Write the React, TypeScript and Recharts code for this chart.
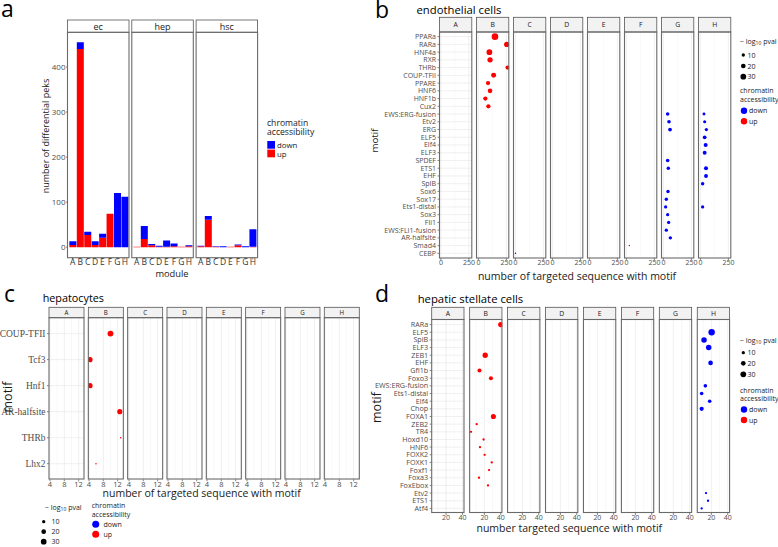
import React from 'react';
import { BarChart, Bar, XAxis, YAxis, ScatterChart, Scatter, CartesianGrid } from 'recharts';

// ---------------- data ----------------
const MODULES = ['A', 'B', 'C', 'D', 'E', 'F', 'G', 'H'];
const CELL_TYPES = ['ec', 'hep', 'hsc'];
const ecUp = [5, 440, 27, 5, 21, 74, 0, 0];
const ecDown = [8, 15, 7, 8, 9, 0, 120, 112];
const hepUp = [1, 18, 4, 1, 1, 2, 1, 2];
const hepDown = [0, 29, 3, 2, 14, 6, 0, 2];
const hscUp = [2, 61, 1, 0, 1, 4, 0, 1];
const hscDown = [1, 8, 1, 2, 0, 2, 2, 39];
const COUNT_TICKS = [0, 100, 200, 300, 400];

type Dot = [string, string, number, number, 'up' | 'down'];

const ecMotifs = ['PPARa', 'RARa', 'HNF4a', 'RXR', 'THRb', 'COUP-TFII', 'PPARE', 'HNF6', 'HNF1b', 'Cux2',
  'EWS:ERG-fusion', 'Etv2', 'ERG', 'ELF5', 'Elf4', 'ELF3', 'SPDEF', 'ETS1', 'EHF', 'SpIB', 'Sox6', 'Sox17',
  'Ets1-distal', 'Sox3', 'Fli1', 'EWS:FLI1-fusion', 'AR-halfsite', 'Smad4', 'CEBP'];
// [motif, module, number of targeted sequences, -log10 pval, accessibility]
const ecDots: Dot[] = [
  ['PPARa', 'B', 148, 40, 'up'],
  ['RARa', 'B', 253, 26, 'up'],
  ['HNF4a', 'B', 98, 30, 'up'],
  ['RXR', 'B', 104, 26, 'up'],
  ['THRb', 'B', 261, 17, 'up'],
  ['COUP-TFII', 'B', 136, 23, 'up'],
  ['PPARE', 'B', 86, 17, 'up'],
  ['HNF6', 'B', 104, 20, 'up'],
  ['HNF1b', 'B', 62, 17, 'up'],
  ['Cux2', 'B', 89, 17, 'up'],
  ['EWS:ERG-fusion', 'G', 38, 12, 'down'],
  ['Etv2', 'G', 50, 12, 'down'],
  ['ERG', 'G', 59, 13, 'down'],
  ['EWS:ERG-fusion', 'H', 32, 8, 'down'],
  ['Etv2', 'H', 38, 9, 'down'],
  ['ERG', 'H', 53, 10, 'down'],
  ['ELF5', 'H', 38, 13, 'down'],
  ['Elf4', 'H', 47, 15, 'down'],
  ['ELF3', 'H', 38, 14, 'down'],
  ['SPDEF', 'G', 38, 12, 'down'],
  ['ETS1', 'G', 44, 11, 'down'],
  ['ETS1', 'H', 50, 15, 'down'],
  ['EHF', 'H', 50, 14, 'down'],
  ['SpIB', 'H', 20, 11, 'down'],
  ['Sox6', 'G', 41, 11, 'down'],
  ['Sox17', 'G', 26, 11, 'down'],
  ['Ets1-distal', 'G', 20, 10, 'down'],
  ['Ets1-distal', 'H', 20, 10, 'down'],
  ['Sox3', 'G', 38, 10, 'down'],
  ['Fli1', 'G', 47, 10, 'down'],
  ['EWS:FLI1-fusion', 'G', 26, 10, 'down'],
  ['AR-halfsite', 'G', 62, 11, 'down'],
  ['Smad4', 'F', 26, 2, 'up'],
  ['CEBP', 'C', 1, 2, 'down'],
];

const hepMotifs = ['COUP-TFII', 'Tcf3', 'Hnf1', 'AR-halfsite', 'THRb', 'Lhx2'];
const hepDots: Dot[] = [
  ['COUP-TFII', 'B', 10, 32, 'up'],
  ['Tcf3', 'B', 4.3, 24, 'up'],
  ['Hnf1', 'B', 4.3, 24, 'up'],
  ['AR-halfsite', 'B', 12.6, 24, 'up'],
  ['THRb', 'B', 12.85, 2, 'up'],
  ['Lhx2', 'B', 5.95, 2, 'up'],
];

const hscMotifs = ['RARa', 'ELF5', 'SpiB', 'ELF3', 'ZEB1', 'EHF', 'Gfi1b', 'Foxo3', 'EWS:ERG-fusion',
  'Ets1-distal', 'Elf4', 'Chop', 'FOXA1', 'ZEB2', 'TR4', 'Hoxd10', 'HNF6', 'FOXK2', 'FOXK1', 'Foxf1',
  'Foxa3', 'FoxEbox', 'Etv2', 'ETS1', 'Atf4'];
const hscDots: Dot[] = [
  ['RARa', 'B', 40, 25, 'up'],
  ['ZEB1', 'B', 21, 26, 'up'],
  ['Gfi1b', 'B', 14, 15, 'up'],
  ['Foxo3', 'B', 28, 15, 'up'],
  ['FOXA1', 'B', 31, 24, 'up'],
  ['ZEB2', 'B', 10.6, 5, 'up'],
  ['TR4', 'B', 3.6, 5, 'up'],
  ['Hoxd10', 'B', 19, 5, 'up'],
  ['HNF6', 'B', 14.6, 5, 'up'],
  ['FOXK2', 'B', 20.3, 5, 'up'],
  ['FOXK1', 'B', 29, 5, 'up'],
  ['Foxf1', 'B', 25.7, 5, 'up'],
  ['Foxa3', 'B', 13.4, 5, 'up'],
  ['FoxEbox', 'B', 24.4, 5, 'up'],
  ['ELF5', 'H', 20.3, 38, 'down'],
  ['SpiB', 'H', 11, 28, 'down'],
  ['ELF3', 'H', 16.7, 28, 'down'],
  ['EHF', 'H', 19, 20, 'down'],
  ['EWS:ERG-fusion', 'H', 12.6, 12, 'down'],
  ['Ets1-distal', 'H', 8.1, 12, 'down'],
  ['Elf4', 'H', 17.9, 12, 'down'],
  ['Chop', 'H', 8.1, 16, 'down'],
  ['Etv2', 'H', 13.4, 5, 'down'],
  ['ETS1', 'H', 15.9, 5, 'down'],
  ['Atf4', 'H', 8.1, 5, 'down'],
];

const ecTicks = [0, 250];
const ecMinor = [125];
const hepTicks = [4, 8, 12];
const hepMinor = [6, 10];
const hscTicks = [20, 40];
const hscMinor = [10, 30];
const SIZE_LEGEND = [10, 20, 30];

// ---------------- style ----------------
const RED = '#ff0000';
const BLUE = '#0000ff';
const SANS = '"Open Sans", "Noto Sans", sans-serif';
const SERIF = '"Liberation Serif", "DejaVu Serif", serif';
const TXT = '#4d4d4d';
const rad = (p: number) => 0.52 * Math.sqrt(p);

const dotShape = (props: any) => {
  const { cx, cy, payload } = props;
  if (cx == null || cy == null) return <g />;
  return <circle cx={cx} cy={cy} r={rad(payload.p)} fill={payload.dir === 'up' ? RED : BLUE} />;
};

type Geom = { left0: number; pitch: number; w: number; top: number; bottom: number; stripTop: number; yW: number };

const GA: Geom = { left0: 67.5, pitch: 64.3, w: 61.5, top: 32.3, bottom: 257.7, stripTop: 20, yW: 18 };
const GB: Geom = { left0: 439.5, pitch: 37.0, w: 32.3, top: 32, bottom: 258, stripTop: 17.3, yW: 69.5 };
const GC: Geom = { left0: 49, pitch: 39.33, w: 35, top: 317.7, bottom: 479, stripTop: 307.3, yW: 49 };
const GD: Geom = { left0: 431.7, pitch: 37.94, w: 32.3, top: 319.5, bottom: 512.5, stripTop: 307.3, yW: 71.7 };

const XH = 11;
const SIDE = 7;

function DotPanel(props: {
  g: Geom; motifs: string[]; dots: Dot[]; xDomain: [number, number]; xTicks: number[]; xMinor: number[];
  labelFont: string; labelSize: number; tickFont: number;
}) {
  const { g, motifs, dots, xDomain, xTicks, xMinor, labelFont, labelSize, tickFont } = props;
  const n = motifs.length;
  const idx = motifs.map((_, i) => i);
  return (
    <>
      {MODULES.map((m, i) => {
        const first = i === 0;
        const yW = first ? g.yW : 0;
        const mL = first ? 0 : SIDE;
        const mR = SIDE;
        const left = g.left0 + i * g.pitch - yW - mL;
        const width = g.w + yW + mL + mR;
        const h = g.bottom - g.top + XH;
        const pts = dots
          .filter((d) => d[1] === m)
          .map((d) => ({ x: d[2], y: motifs.indexOf(d[0]), p: d[3], dir: d[4] }));
        return (
          <div key={m} style={{ position: 'absolute', left, top: g.top, width, height: h, zIndex: 1 }}>
            <ScatterChart width={width} height={h} margin={{ top: 0, right: mR, bottom: 0, left: mL }}>
              <CartesianGrid horizontal={false} verticalValues={xMinor} stroke="#f2f2f2" strokeWidth={0.5} />
              <CartesianGrid horizontalValues={idx} verticalValues={xTicks} stroke="#e6e6e6" strokeWidth={0.6} />
              <XAxis
                type="number"
                dataKey="x"
                domain={xDomain}
                ticks={xTicks}
                allowDataOverflow
                interval={0}
                height={XH}
                tickSize={2}
                tickMargin={0.5}
                axisLine={false}
                tickLine={{ stroke: '#333', strokeWidth: 0.6 }}
                tick={{ fontSize: tickFont, fill: TXT, fontFamily: SANS }}
              />
              <YAxis
                type="number"
                dataKey="y"
                domain={[-0.6, n - 0.4]}
                reversed
                ticks={idx}
                interval={0}
                allowDataOverflow
                width={yW}
                tickFormatter={(v: number) => motifs[v] ?? ''}
                tick={first ? { fontSize: labelSize, fill: TXT, fontFamily: labelFont } : false}
                tickLine={first ? { stroke: '#333', strokeWidth: 0.6 } : false}
                tickSize={2}
                tickMargin={1.5}
                axisLine={false}
              />
              <Scatter data={pts} shape={dotShape} isAnimationActive={false} />
            </ScatterChart>
          </div>
        );
      })}
    </>
  );
}

function FacetFrames({ g, labels, stripFill, stripH, fontSize }: { g: Geom; labels: string[]; stripFill: string; stripH: number; fontSize: number }) {
  return (
    <>
      {labels.map((l, i) => {
        const x = g.left0 + i * g.pitch;
        return (
          <g key={l + i}>
            <rect x={x} y={g.stripTop} width={g.w} height={stripH} fill={stripFill} stroke="#555" strokeWidth={0.8} />
            <text x={x + g.w / 2} y={g.stripTop + stripH / 2} textAnchor="middle" dominantBaseline="central"
              fontSize={fontSize} fill="#1a1a1a" fontFamily={SANS}>{l}</text>
            <rect x={x} y={g.top} width={g.w} height={g.bottom - g.top} fill="none" stroke="#6a6a6a" strokeWidth={1.1} />
          </g>
        );
      })}
    </>
  );
}

function SizeColorLegend(props: {
  x: number; titleY: number; sizeYs: number[]; dotX: number; labX: number; accX: number;
  accY1: number; accY2: number; keyYs: number[]; keyX: number; keyLabX: number; keyR: number; fs: number;
}) {
  const p = props;
  return (
    <g fontFamily={SANS} fill="#1a1a1a">
      <text x={p.x} y={p.titleY} dominantBaseline="central" fontSize={p.fs}>
        − log<tspan fontSize={p.fs * 0.72} dy={1.8}>10</tspan><tspan dy={-1.8}> pval</tspan>
      </text>
      {SIZE_LEGEND.map((s, i) => (
        <g key={s}>
          <circle cx={p.dotX} cy={p.sizeYs[i]} r={rad(s)} fill="#000" />
          <text x={p.labX} y={p.sizeYs[i]} dominantBaseline="central" fontSize={p.fs}>{s}</text>
        </g>
      ))}
      <text x={p.accX} y={p.accY1} dominantBaseline="central" fontSize={p.fs}>chromatin</text>
      <text x={p.accX} y={p.accY2} dominantBaseline="central" fontSize={p.fs}>accessibility</text>
      {['down', 'up'].map((k, i) => (
        <g key={k}>
          <circle cx={p.keyX} cy={p.keyYs[i]} r={p.keyR} fill={k === 'up' ? RED : BLUE} />
          <text x={p.keyLabX} y={p.keyYs[i]} dominantBaseline="central" fontSize={p.fs}>{k}</text>
        </g>
      ))}
    </g>
  );
}

function BarPanel() {
  const sets = [
    [ecUp, ecDown],
    [hepUp, hepDown],
    [hscUp, hscDown],
  ];
  const XHA = 14;
  return (
    <>
      {CELL_TYPES.map((ct, i) => {
        const first = i === 0;
        const yW = first ? GA.yW : 0;
        const left = GA.left0 + i * GA.pitch - yW;
        const width = GA.w + yW;
        const h = GA.bottom - GA.top + XHA;
        const data = MODULES.map((m, j) => ({ m, up: sets[i][0][j], down: sets[i][1][j] }));
        return (
          <div key={ct} style={{ position: 'absolute', left, top: GA.top, width, height: h, zIndex: 1 }}>
            <BarChart width={width} height={h} data={data} margin={{ top: 0, right: 0, bottom: 0, left: 0 }}
              barCategoryGap="5%">
              <XAxis
                dataKey="m"
                type="category"
                interval={0}
                height={XHA}
                padding={{ left: 1, right: 1 }}
                tickSize={2}
                tickMargin={0}
                axisLine={false}
                tickLine={{ stroke: '#333', strokeWidth: 0.6 }}
                tick={{ fontSize: 8.5, fill: '#333', fontFamily: SANS }}
              />
              <YAxis
                type="number"
                domain={[-22.75, 477.75]}
                allowDataOverflow
                ticks={COUNT_TICKS}
                interval={0}
                width={yW}
                tick={first ? { fontSize: 8, fill: TXT, fontFamily: SANS } : false}
                tickLine={first ? { stroke: '#333', strokeWidth: 0.6 } : false}
                tickSize={2}
                tickMargin={0.5}
                axisLine={false}
              />
              <Bar dataKey="up" stackId="s" fill={RED} isAnimationActive={false} />
              <Bar dataKey="down" stackId="s" fill={BLUE} isAnimationActive={false} />
            </BarChart>
          </div>
        );
      })}
    </>
  );
}

export default function App() {
  return (
    <div style={{ position: 'absolute', left: 0, top: 0, width: 778, height: 547, background: '#fff', overflow: 'hidden', fontFamily: SANS }}>
      <BarPanel />
      <DotPanel g={GB} motifs={ecMotifs} dots={ecDots} xDomain={[-12.5, 276]} xTicks={ecTicks} xMinor={ecMinor}
        labelFont={SANS} labelSize={7} tickFont={7} />
      <DotPanel g={GC} motifs={hepMotifs} dots={hepDots} xDomain={[3.72, 13.5]} xTicks={hepTicks} xMinor={hepMinor}
        labelFont={SERIF} labelSize={9.5} tickFont={7.5} />
      <DotPanel g={GD} motifs={hscMotifs} dots={hscDots} xDomain={[2.4, 41.9]} xTicks={hscTicks} xMinor={hscMinor}
        labelFont={SANS} labelSize={7.2} tickFont={7} />

      <svg width={778} height={547} style={{ position: 'absolute', left: 0, top: 0, zIndex: 2, pointerEvents: 'none' }}>
        {/* panel letters */}
        <g fontFamily={SANS} fill="#000" fontSize={23}>
          <text x={1} y={17}>a</text>
          <text x={375} y={18}>b</text>
          <text x={4} y={302}>c</text>
          <text x={375} y={302}>d</text>
        </g>

        {/* panel a */}
        <FacetFrames g={GA} labels={CELL_TYPES} stripFill="#fff" stripH={12.3} fontSize={9} />
        <text transform="translate(45,136) rotate(-90)" textAnchor="middle" dominantBaseline="central"
          fontSize={9} fontFamily={SANS} fill="#1a1a1a">number of differential peks</text>
        <text x={172} y={273} textAnchor="middle" dominantBaseline="central" fontSize={9.3} fontFamily={SANS} fill="#1a1a1a">module</text>
        <g fontFamily={SANS} fill="#1a1a1a">
          <text x={267} y={122.8} dominantBaseline="central" fontSize={8.6}>chromatin</text>
          <text x={267} y={131.8} dominantBaseline="central" fontSize={8.6}>accessibility</text>
          <rect x={267.3} y={141} width={7.7} height={7.7} fill={BLUE} />
          <rect x={267.3} y={149.6} width={7.7} height={7.7} fill={RED} />
          <text x={277} y={145} dominantBaseline="central" fontSize={7.8}>down</text>
          <text x={277} y={153.5} dominantBaseline="central" fontSize={7.8}>up</text>
        </g>

        {/* panel b */}
        <text x={416.5} y={9} dominantBaseline="central" fontSize={11.3} fontFamily={SANS} fill="#000">endothelial cells</text>
        <FacetFrames g={GB} labels={MODULES} stripFill="#f2f2f2" stripH={14.7} fontSize={6.8} />
        <text transform="translate(374,140.5) rotate(-90)" textAnchor="middle" dominantBaseline="central"
          fontSize={9.8} fontFamily={SANS} fill="#1a1a1a">motif</text>
        <text x={577} y={275.5} textAnchor="middle" dominantBaseline="central" fontSize={10.5} fontFamily={SANS} fill="#1a1a1a">number of targeted sequence with motif</text>
        <SizeColorLegend x={740} titleY={41.3} sizeYs={[55, 66, 76.7]} dotX={743.3} labX={747.5} accX={740}
          accY1={90.7} accY2={99.3} keyYs={[110.7, 121.3]} keyX={744} keyLabX={749} keyR={3.2} fs={7} />

        {/* panel c */}
        <text x={42.7} y={297.5} dominantBaseline="central" fontSize={10.8} fontFamily={SANS} fill="#000">hepatocytes</text>
        <FacetFrames g={GC} labels={MODULES} stripFill="#f2f2f2" stripH={10.4} fontSize={6.2} />
        <text transform="translate(7,397) rotate(-90)" textAnchor="middle" dominantBaseline="central"
          fontSize={12.5} fontFamily={SANS} fill="#1a1a1a">motif</text>
        <text x={201.7} y={493.3} textAnchor="middle" dominantBaseline="central" fontSize={10.5} fontFamily={SANS} fill="#1a1a1a">number of targeted sequence with motif</text>
        <SizeColorLegend x={45} titleY={507.3} sizeYs={[521.7, 531.7, 541.7]} dotX={43.7} labX={51.5} accX={91.7}
          accY1={505.7} accY2={514} keyYs={[524.3, 534.3]} keyX={95.7} keyLabX={103.5} keyR={3.5} fs={7} />

        {/* panel d */}
        <text x={417.7} y={298} dominantBaseline="central" fontSize={11.3} fontFamily={SANS} fill="#000">hepatic stellate cells</text>
        <FacetFrames g={GD} labels={MODULES} stripFill="#f2f2f2" stripH={12.2} fontSize={6.8} />
        <text transform="translate(376,407.5) rotate(-90)" textAnchor="middle" dominantBaseline="central"
          fontSize={12.5} fontFamily={SANS} fill="#1a1a1a">motif</text>
        <text x={569.3} y={528.3} textAnchor="middle" dominantBaseline="central" fontSize={10.5} fontFamily={SANS} fill="#1a1a1a">number targeted sequence with motif</text>
        <SizeColorLegend x={740} titleY={340} sizeYs={[352.7, 363.3, 374.3]} dotX={743.3} labX={747.5} accX={740}
          accY1={390} accY2={398.3} keyYs={[409.5, 420]} keyX={744} keyLabX={749} keyR={3.2} fs={7} />
      </svg>
    </div>
  );
}
